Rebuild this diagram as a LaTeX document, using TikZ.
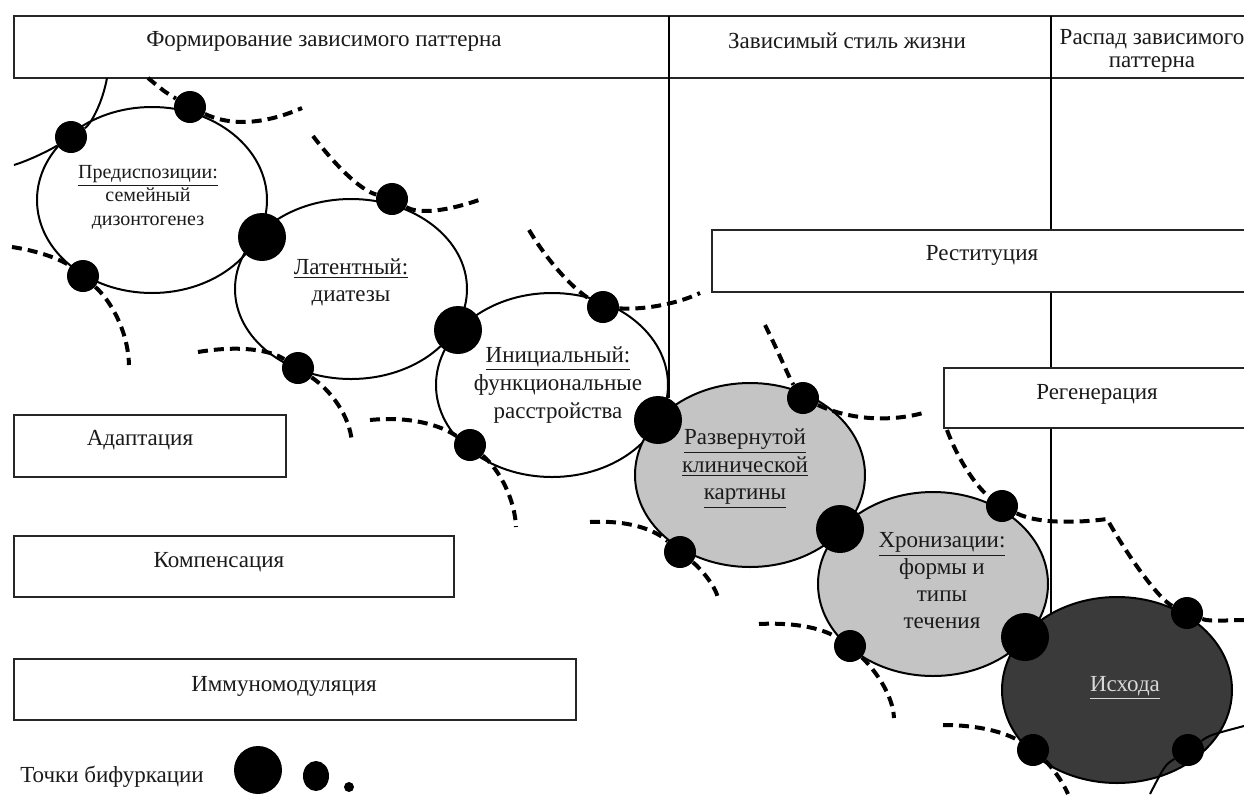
\documentclass[tikz,border=0pt]{standalone}
\usepackage{fontspec}
\setmainfont{Liberation Serif}
\usetikzlibrary{shapes.geometric}
\definecolor{grayfill}{HTML}{C4C4C4}
\definecolor{darkfill}{HTML}{3A3A3A}
\definecolor{inktext}{HTML}{1A1A1A}
\definecolor{lighttext}{HTML}{D8D8D8}
\begin{document}
\begin{tikzpicture}[x=0.5pt,y=-0.5pt,
  stage/.style={ellipse, draw=black, line width=1pt, inner sep=0pt},
  bdot/.style={circle, fill=black, inner sep=0pt, minimum size=24pt},
  mdot/.style={circle, fill=black, inner sep=0pt, minimum size=16pt},
  dsh/.style={line width=2pt, dash pattern=on 5pt off 3pt},
  arcln/.style={line width=1pt},
  boxln/.style={draw=black!85, line width=1.2pt},
  sepln/.style={draw=black, line width=1pt},
  lbl/.style={font=\fontsize{11.5}{14}\selectfont, text=inktext, inner sep=0pt, align=center},
]
\useasboundingbox (0,0) rectangle (1244,794);
\fill[white] (0,0) rectangle (1244,794);

% header
\draw[boxln] (1250,16) -- (14,16) -- (14,78) -- (1250,78);
\draw[sepln] (669,16) -- (669,398);
\draw[sepln] (1051,16) -- (1051,230);
\draw[sepln] (1051,292) -- (1051,368);
\draw[sepln] (1051,428) -- (1051,614);
\node[lbl] (h1) at (324,41) {Формирование зависимого паттерна};
\node[lbl] (h2) at (847,41) {Зависимый стиль жизни};
\node[lbl, font=\fontsize{11.5}{11.5}\selectfont] (h3) at (1152,51) {Распад зависимого\\паттерна};

% boxes
\draw[boxln] (1250,230) -- (712,230) -- (712,292) -- (1250,292);
\node[lbl] (rest) at (982,255) {Реституция};
\draw[boxln] (1250,368) -- (944,368) -- (944,428) -- (1250,428);
\node[lbl] (regen) at (1097,394) {Регенерация};
\draw[boxln] (14,415) rectangle (286,477);
\node[lbl] (adapt) at (140,440) {Адаптация};
\draw[boxln] (14,536) rectangle (454,597);
\node[lbl] (komp) at (219,562) {Компенсация};
\draw[boxln] (14,659) rectangle (576,720);
\node[lbl] (immun) at (284,686) {Иммуномодуляция};

% stage ellipses
\node[stage, minimum width=115pt, minimum height=93pt] (P) at (152,200) {};
\node[stage, minimum width=116pt, minimum height=90pt] (L) at (351,289) {};
\node[stage, minimum width=116pt, minimum height=92pt] (I) at (552,385) {};
\node[stage, fill=grayfill, minimum width=115pt, minimum height=92pt] (R) at (750,475) {};
\node[stage, fill=grayfill, minimum width=115pt, minimum height=92pt] (H) at (933,584) {};
\node[stage, fill=darkfill, minimum width=115pt, minimum height=93pt] (E) at (1117,690) {};

% stage texts
\node[lbl, font=\fontsize{10}{11.75}\selectfont] (Pt) at (148,197) {\underline{Предиспозиции:}\\семейный\\дизонтогенез};
\node[lbl, font=\fontsize{11.5}{13.5}\selectfont] (Lt) at (351,282) {\underline{Латентный:}\\диатезы};
\node[lbl, font=\fontsize{11.5}{14.2}\selectfont] (It) at (558,385) {\underline{Инициальный:}\\функциональные\\расстройства};
\node[lbl, font=\fontsize{11.5}{13.75}\selectfont] (Rt) at (745,469) {\underline{Развернутой}\\\underline{клинической}\\\underline{картины}};
\node[lbl, font=\fontsize{11.5}{13.5}\selectfont] (Ht) at (942,581) {\underline{Хронизации:}\\формы и\\типы\\течения};
\node[lbl, text=lighttext] (Et) at (1125,688) {\underline{Исхода}};

% bifurcation points
\node[mdot] (p1) at (71,137) {};
\node[mdot] (p2) at (190,107) {};
\node[mdot] (p3) at (83,276) {};
\node[bdot] (pl) at (262,237) {};
\node[mdot] (l1) at (392,199) {};
\node[mdot] (l2) at (298,368) {};
\node[bdot] (li) at (458,330) {};
\node[mdot] (i1) at (603,307) {};
\node[mdot] (i2) at (470,445) {};
\node[bdot] (ir) at (658,420) {};
\node[mdot] (r1) at (803,398) {};
\node[mdot] (r2) at (680,552) {};
\node[bdot] (rh) at (840,529) {};
\node[mdot] (h1d) at (1002,506) {};
\node[mdot] (h2d) at (850,646) {};
\node[bdot] (he) at (1025,637) {};
\node[mdot] (e1) at (1187,613) {};
\node[mdot] (e2) at (1033,750) {};
\node[mdot] (e3) at (1188,750) {};

% free ends
\coordinate (a0) at (107,78);
\coordinate (a1) at (14,165);
\coordinate (p2a) at (148,78);
\coordinate (p2b) at (302,108);
\coordinate (p3a) at (12,247);
\coordinate (p3b) at (129,365);
\coordinate (l1a) at (313,136);
\coordinate (l1b) at (479,200);
\coordinate (l2a) at (198,352);
\coordinate (l2b) at (352,443);
\coordinate (i1a) at (529,230);
\coordinate (i1b) at (700,293);
\coordinate (i2a) at (370,420);
\coordinate (i2b) at (516,527);
\coordinate (r1a) at (765,325);
\coordinate (r1b) at (923,413);
\coordinate (r2a) at (590,522);
\coordinate (r2b) at (718,598);
\coordinate (h1a) at (947,430);
\coordinate (hk) at (1107,519);
\coordinate (h2a) at (759,624);
\coordinate (h2b) at (894,718);
\coordinate (e1b) at (1244,620);
\coordinate (e2a) at (943,725);
\coordinate (e2b) at (1068,794);
\coordinate (e3a) at (1244,726);
\coordinate (e3b) at (1150,794);

% solid arcs of neighbouring stages
\draw[arcln] (a0) .. controls (102,105) and (90,125) .. (p1);
\draw[arcln] (p1) .. controls (50,150) and (30,160) .. (a1);
\draw[arcln] (e3) .. controls (1210,735) .. (e3a);
\draw[arcln] (e3) .. controls (1165,765) .. (e3b);

% dashed trajectories
\draw[dsh] (p2a) .. controls (165,92) .. (p2);
\draw[dsh] (p2) .. controls (235,128) and (270,122) .. (p2b);
\draw[dsh] (p3a) .. controls (45,252) and (65,262) .. (p3);
\draw[dsh] (p3) .. controls (110,300) and (128,330) .. (p3b);
\draw[dsh] (l1a) .. controls (335,165) and (360,190) .. (l1);
\draw[dsh] (l1) .. controls (420,215) and (450,210) .. (l1b);
\draw[dsh] (l2a) .. controls (240,345) and (270,350) .. (l2);
\draw[dsh] (l2) .. controls (330,390) and (350,415) .. (l2b);
\draw[dsh] (i1a) .. controls (550,265) and (575,290) .. (i1);
\draw[dsh] (i1) .. controls (640,310) and (675,305) .. (i1b);
\draw[dsh] (i2a) .. controls (410,416) and (440,425) .. (i2);
\draw[dsh] (i2) .. controls (500,470) and (515,500) .. (i2b);
\draw[dsh] (r1a) .. controls (780,355) and (790,380) .. (r1);
\draw[dsh] (r1) .. controls (850,420) and (890,422) .. (r1b);
\draw[dsh] (r2a) .. controls (630,520) and (655,530) .. (r2);
\draw[dsh] (r2) .. controls (700,568) and (715,585) .. (r2b);
\draw[dsh] (h1a) .. controls (960,465) and (980,490) .. (h1d);
\draw[dsh] (h1d) .. controls (1040,525) and (1085,522) .. (hk) .. controls (1130,560) and (1160,600) .. (e1);
\draw[dsh] (h2a) .. controls (800,622) and (825,630) .. (h2d);
\draw[dsh] (h2d) .. controls (875,670) and (893,695) .. (h2b);
\draw[dsh] (e1) .. controls (1210,622) and (1230,620) .. (e1b);
\draw[dsh] (e2a) .. controls (985,725) and (1010,735) .. (e2);
\draw[dsh] (e2) .. controls (1050,765) and (1062,780) .. (e2b);

% legend
\node[lbl, anchor=west] (leg) at (20,777) {Точки бифуркации};
\node[circle, fill=black, inner sep=0pt, minimum size=24pt] (lg1) at (258,770) {};
\node[ellipse, fill=black, inner sep=0pt, minimum width=13pt, minimum height=15pt] (lg2) at (316,776) {};
\node[circle, fill=black, inner sep=0pt, minimum size=5pt] (lg3) at (349,787) {};
\end{tikzpicture}
\end{document}
